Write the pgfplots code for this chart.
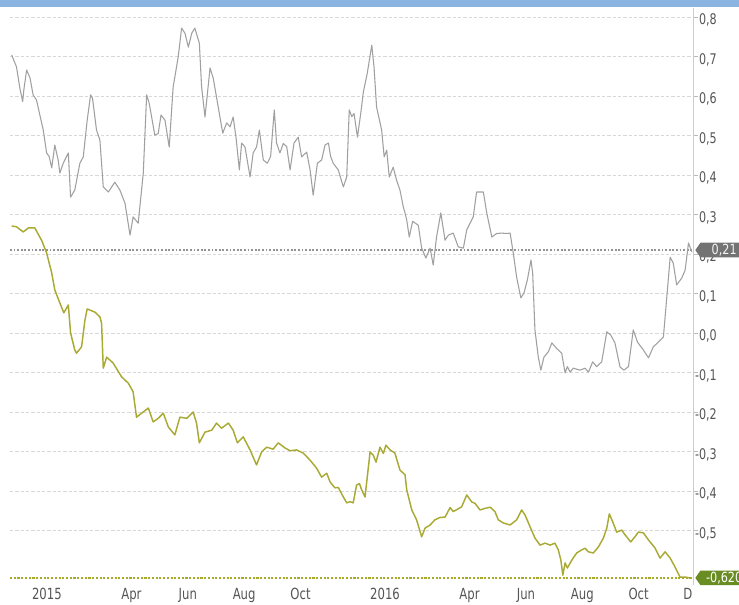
\documentclass[border=0pt]{standalone}
\usepackage{pgfplots}
\pgfplotsset{compat=1.18}
\usepackage{pgfplotstable}
\usepackage{fontspec}
\setmainfont{DejaVu Sans}
\usetikzlibrary{shapes.symbols}
\definecolor{tickc}{RGB}{85,85,85}
\definecolor{grayline}{RGB}{160,160,160}
\definecolor{oliveline}{RGB}{168,170,52}
\definecolor{olivedot}{RGB}{165,170,40}
\definecolor{greentag}{RGB}{105,140,35}
\definecolor{graytag}{RGB}{115,115,115}
\definecolor{band}{RGB}{140,180,225}
\definecolor{gridc}{RGB}{220,215,215}

\pgfplotstableread{
m v
-1.25 0.704
-1.08 0.674
-0.96 0.620
-0.86 0.586
-0.82 0.615
-0.72 0.666
-0.60 0.646
-0.49 0.603
-0.37 0.590
-0.25 0.552
-0.13 0.514
-0.01 0.456
0.08 0.447
0.17 0.418
0.28 0.476
0.40 0.438
0.46 0.405
0.58 0.430
0.76 0.456
0.84 0.344
0.99 0.362
1.17 0.430
1.29 0.446
1.43 0.539
1.55 0.603
1.62 0.594
1.76 0.514
1.88 0.489
2.00 0.370
2.18 0.357
2.41 0.382
2.59 0.362
2.77 0.329
2.95 0.248
3.06 0.294
3.24 0.278
3.42 0.405
3.54 0.603
3.63 0.582
3.83 0.501
3.95 0.505
4.05 0.552
4.19 0.539
4.34 0.471
4.48 0.623
4.66 0.699
4.78 0.772
4.90 0.759
5.02 0.724
5.14 0.759
5.25 0.772
5.41 0.734
5.49 0.623
5.61 0.547
5.79 0.671
5.90 0.646
6.02 0.597
6.24 0.506
6.38 0.532
6.50 0.522
6.61 0.547
6.71 0.496
6.83 0.413
6.91 0.481
7.03 0.471
7.21 0.395
7.32 0.456
7.44 0.471
7.54 0.514
7.68 0.438
7.82 0.430
7.94 0.447
8.07 0.565
8.15 0.481
8.27 0.456
8.39 0.480
8.51 0.472
8.63 0.413
8.77 0.481
8.92 0.496
9.04 0.446
9.22 0.458
9.34 0.413
9.45 0.349
9.60 0.430
9.75 0.438
9.87 0.476
9.99 0.481
10.07 0.447
10.16 0.430
10.34 0.413
10.52 0.370
10.64 0.395
10.73 0.565
10.82 0.548
10.90 0.556
11.02 0.496
11.14 0.557
11.23 0.610
11.37 0.658
11.53 0.729
11.61 0.673
11.70 0.572
11.88 0.514
11.97 0.446
12.06 0.463
12.15 0.395
12.29 0.420
12.41 0.387
12.53 0.362
12.65 0.319
12.71 0.304
12.77 0.286
12.86 0.243
12.98 0.283
13.18 0.273
13.30 0.215
13.45 0.190
13.60 0.215
13.71 0.172
13.83 0.244
13.98 0.304
14.13 0.235
14.25 0.248
14.42 0.253
14.60 0.218
14.78 0.215
14.90 0.261
15.13 0.294
15.25 0.357
15.49 0.357
15.61 0.304
15.79 0.243
15.96 0.252
16.14 0.253
16.32 0.252
16.44 0.253
16.55 0.203
16.67 0.142
16.82 0.089
16.93 0.101
17.05 0.134
17.18 0.185
17.24 0.152
17.32 0.008
17.44 -0.061
17.53 -0.094
17.64 -0.061
17.80 -0.047
17.92 -0.025
18.09 -0.039
18.27 -0.051
18.39 -0.101
18.47 -0.085
18.57 -0.099
18.68 -0.089
18.92 -0.094
19.10 -0.089
19.22 -0.099
19.37 -0.073
19.51 -0.085
19.69 -0.073
19.87 0.003
20.01 -0.005
20.16 -0.025
20.34 -0.086
20.48 -0.094
20.64 -0.085
20.81 0.008
20.96 -0.023
21.17 -0.043
21.35 -0.063
21.52 -0.035
21.70 -0.023
21.88 -0.010
22.00 0.091
22.12 0.192
22.23 0.177
22.35 0.122
22.53 0.139
22.65 0.159
22.77 0.228
22.89 0.205
}\graydata

\pgfplotstableread{
m v
-1.25 0.271
-1.08 0.269
-0.84 0.256
-0.66 0.266
-0.43 0.266
-0.19 0.235
-0.01 0.203
0.17 0.152
0.28 0.109
0.46 0.076
0.60 0.051
0.76 0.071
0.84 0.000
0.99 -0.043
1.05 -0.051
1.23 -0.035
1.35 0.033
1.43 0.061
1.70 0.053
1.88 0.041
1.94 0.025
2.00 -0.089
2.12 -0.061
2.35 -0.076
2.65 -0.111
2.89 -0.127
3.06 -0.149
3.18 -0.213
3.36 -0.203
3.60 -0.190
3.77 -0.225
3.95 -0.216
4.13 -0.203
4.31 -0.238
4.54 -0.258
4.72 -0.213
4.96 -0.216
5.19 -0.200
5.31 -0.228
5.41 -0.278
5.61 -0.251
5.85 -0.246
6.02 -0.228
6.20 -0.241
6.44 -0.228
6.61 -0.246
6.76 -0.278
6.97 -0.263
7.21 -0.296
7.44 -0.334
7.62 -0.301
7.80 -0.289
8.03 -0.294
8.21 -0.278
8.45 -0.291
8.63 -0.298
8.86 -0.296
9.10 -0.304
9.34 -0.322
9.57 -0.342
9.75 -0.365
9.93 -0.355
10.05 -0.377
10.22 -0.392
10.34 -0.391
10.52 -0.415
10.64 -0.430
10.76 -0.427
10.87 -0.430
10.99 -0.385
11.09 -0.381
11.17 -0.397
11.29 -0.415
11.41 -0.339
11.47 -0.301
11.58 -0.309
11.68 -0.327
11.82 -0.289
11.94 -0.305
12.03 -0.284
12.18 -0.296
12.35 -0.304
12.53 -0.347
12.71 -0.359
12.77 -0.397
12.95 -0.448
13.12 -0.473
13.30 -0.516
13.42 -0.494
13.60 -0.486
13.77 -0.473
13.95 -0.467
14.13 -0.466
14.31 -0.442
14.42 -0.452
14.60 -0.445
14.72 -0.440
14.90 -0.410
15.08 -0.428
15.19 -0.431
15.37 -0.448
15.55 -0.444
15.73 -0.441
15.90 -0.452
16.02 -0.473
16.20 -0.481
16.44 -0.486
16.67 -0.473
16.85 -0.448
16.97 -0.461
17.15 -0.491
17.32 -0.519
17.50 -0.537
17.68 -0.532
17.86 -0.537
18.03 -0.532
18.15 -0.549
18.24 -0.575
18.31 -0.613
18.39 -0.582
18.47 -0.595
18.63 -0.575
18.80 -0.557
18.98 -0.549
19.10 -0.545
19.22 -0.554
19.39 -0.557
19.57 -0.542
19.75 -0.519
19.87 -0.494
19.96 -0.458
20.08 -0.478
20.22 -0.504
20.40 -0.499
20.52 -0.511
20.72 -0.529
20.87 -0.516
20.99 -0.504
21.17 -0.506
21.35 -0.524
21.58 -0.544
21.76 -0.570
21.94 -0.554
22.12 -0.570
22.29 -0.592
22.47 -0.618
22.65 -0.618
22.83 -0.620
}\greendata

\begin{document}
\begin{tikzpicture}
\begin{axis}[
  at={(7.5pt,14.25pt)}, anchor=south west,
  scale only axis, width=512.25pt, height=432.75pt,
  xmin=-1.31, xmax=22.93, ymin=-0.638, ymax=0.823,
  axis x line*=bottom, x axis line style={draw=none},
  axis y line*=right, y axis line style={draw=gray!40, line width=0.6pt, -},
  xtick={0,3,5,7,9,12,15,17,19,21,22.75},
  xticklabels={2015,Apr,Jun,Aug,Oct,2016,Apr,Jun,Aug,Oct,D},
  ytick={-0.5,-0.4,-0.3,-0.2,-0.1,0,0.1,0.2,0.3,0.4,0.5,0.6,0.7,0.8},
  yticklabels={{-0,5},{-0,4},{-0,3},{-0,2},{-0,1},{0,0},{0,1},{0,2},{0,3},{0,4},{0,5},{0,6},{0,7},{0,8}},
  xtick style={draw=none},
  ytick style={draw=gray!55, line width=0.5pt},
  tick align=outside, major tick length=3.5pt,
  ymajorgrids,
  grid style={draw=gridc, line width=0.5pt, dash pattern=on 2.5pt off 1.5pt},
  yticklabel style={font=\fontsize{11}{11}\selectfont, text=tickc, anchor=east, xshift=14.5pt, yshift=-2.5pt, xscale=0.76, inner sep=0pt},
  xticklabel style={font=\fontsize{11.5}{11}\selectfont, text=tickc, xscale=0.76, anchor=north, yshift=1.5pt, inner sep=0pt},
  clip=true,
]
\addplot [draw=gray!85, line width=0.9pt, dash pattern=on 1.3pt off 1.4pt] coordinates {(-1.31,0.21) (22.93,0.21)};
\addplot [draw=olivedot, line width=1.4pt, dash pattern=on 1.6pt off 1.2pt] coordinates {(-1.31,-0.62) (22.93,-0.62)};
\addplot [draw=grayline, line width=0.8pt, line join=round] table [x=m, y=v] {\graydata};
\addplot [draw=oliveline, line width=1.1pt, line join=round] table [x=m, y=v] {\greendata};
\coordinate (tagA) at (axis cs:22.93,0.21);
\coordinate (tagB) at (axis cs:22.93,-0.62);
\end{axis}
\node[signal, signal to=west, signal pointer angle=110, fill=graytag, text=white!92!gray,
  minimum height=11pt, minimum width=38pt, inner sep=1pt, anchor=west,
  font=\fontsize{10.5}{10}\selectfont, xshift=1.5pt] at (tagA) {\scalebox{0.8}[1]{\,0,21}};
\node[signal, signal to=west, signal pointer angle=110, fill=greentag, text=white,
  minimum height=11pt, minimum width=38pt, inner sep=1pt, anchor=west,
  font=\fontsize{10.5}{10}\selectfont, xshift=1.5pt] at (tagB) {\scalebox{0.8}[1]{\,-0,620}};
\fill[band] (0,447.75pt) rectangle (554.25pt,453pt);
\pgfresetboundingbox
\path[use as bounding box] (0,0) rectangle (554.25pt,453pt);
\end{tikzpicture}
\end{document}
